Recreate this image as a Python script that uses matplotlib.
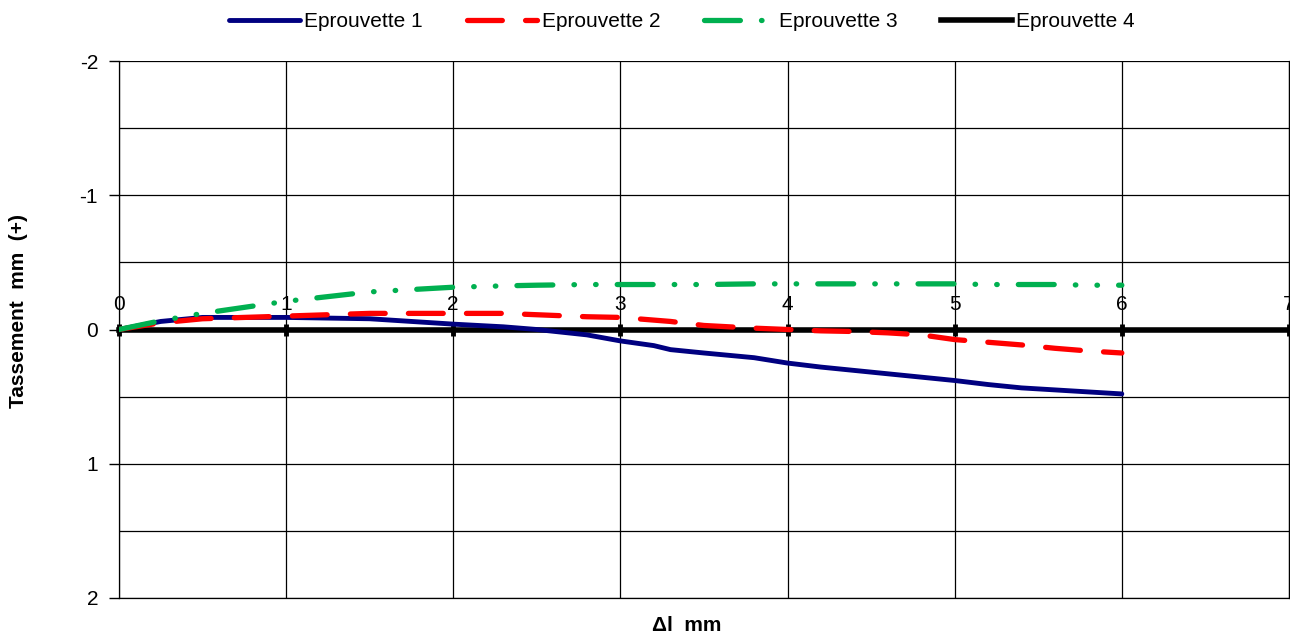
import numpy as np
import matplotlib.pyplot as plt
from matplotlib.ticker import MultipleLocator

plt.rcParams['font.family'] = ['Liberation Sans', 'DejaVu Sans']
plt.rcParams['axes.unicode_minus'] = False

# deplacement horizontal (mm)
dl = [0, 0.25, 0.5, 1.0, 1.5, 2.0, 2.3, 2.5, 2.8, 3.0, 3.2, 3.3, 3.5, 3.8,
      4.0, 4.2, 4.4, 4.6, 4.8, 5.0, 5.2, 5.4, 5.6, 5.8, 6.0]
ep1 = [0, -0.06, -0.09, -0.09, -0.08, -0.04, -0.02, 0.0, 0.04, 0.085, 0.12,
       0.15, 0.175, 0.21, 0.25, 0.28, 0.305, 0.33, 0.355, 0.38, 0.41, 0.435,
       0.45, 0.465, 0.48]
ep2 = [0, -0.05, -0.08, -0.10, -0.12, -0.12, -0.12, -0.11, -0.095, -0.09,
       -0.07, -0.06, -0.03, -0.01, 0.0, 0.01, 0.015, 0.025, 0.04, 0.075, 0.095,
       0.115, 0.14, 0.16, 0.175]
ep3 = [0, -0.065, -0.12, -0.21, -0.28, -0.315, -0.325, -0.33, -0.335, -0.335,
       -0.335, -0.335, -0.335, -0.34, -0.34, -0.34, -0.34, -0.34, -0.34, -0.34,
       -0.335, -0.335, -0.335, -0.33, -0.33]
dl4 = [0, 7]
ep4 = [0, 0]

fig = plt.figure(figsize=(12.9, 6.39), dpi=100)
ax = fig.add_axes([0.0922, 0.0642, 0.9070, 0.8403])

l1, = ax.plot(dl, ep1, color='#000080', lw=3.5, solid_capstyle='round', zorder=4)
l2, = ax.plot(dl, ep2, color='#ff0000', lw=3.8, dash_capstyle='round', zorder=4)
l2.set_dashes((6.6, 4.4))
l3, = ax.plot(dl, ep3, color='#00b050', lw=3.8, dash_capstyle='round', zorder=4)
l3.set_dashes((6.8, 4.0, 0.1, 4.0, 0.1, 4.0))
l4, = ax.plot(dl4, ep4, color='black', lw=4, zorder=3, clip_on=False)

ax.set_xlim(0, 7)
ax.set_ylim(2, -2)

# axe des x a y=0, etiquettes au-dessus
ax.spines['top'].set_position(('data', 0))
ax.spines['top'].set_linewidth(0)
ax.xaxis.set_ticks_position('top')
ax.xaxis.set_major_locator(MultipleLocator(1))
ax.tick_params(axis='x', direction='inout', length=8, width=3.5,
               labelsize=15, pad=7, color='black')
for t in ax.get_xticklabels():
    t.set_zorder(6)

ax.yaxis.set_major_locator(MultipleLocator(1))
ax.yaxis.set_minor_locator(MultipleLocator(0.5))
ax.tick_params(axis='y', which='major', direction='out', length=7, width=1,
               labelsize=15, pad=8)
ax.tick_params(axis='y', which='minor', length=0)

ax.grid(True, axis='x', which='major', color='black', lw=0.9)
ax.grid(True, axis='y', which='both', color='black', lw=0.9)
for s in ['left', 'bottom', 'right']:
    ax.spines[s].set_linewidth(0.9)

ax.set_ylabel('Tassement  mm  (+)', fontsize=15, fontweight='bold')
ax.yaxis.set_label_coords(-0.0775, 0.534)
fig.text(0.532, 0.021, '\u0394l  mm', fontsize=15, fontweight='bold',
         ha='center', va='center')

fig.legend([l1, l2, l3, l4],
           ['Eprouvette 1', 'Eprouvette 2', 'Eprouvette 3', 'Eprouvette 4'],
           loc='center', bbox_to_anchor=(0.5287, 0.966), ncol=4, frameon=False,
           fontsize=15, handlelength=3.4, handletextpad=0.2, columnspacing=2.1)

fig.savefig('out.png', dpi=100)
